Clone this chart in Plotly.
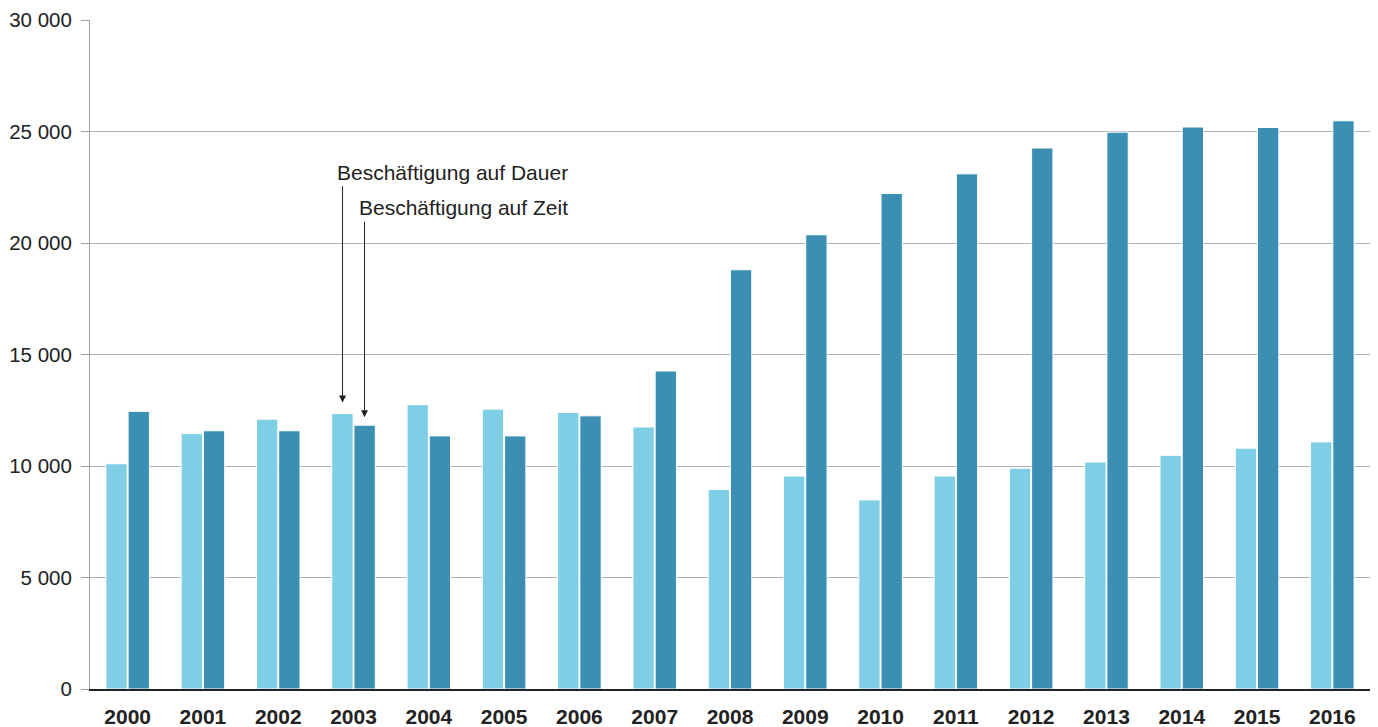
import plotly.graph_objects as go

years = [str(y) for y in range(2000, 2017)]
dauer = [10100, 11450, 12100, 12350, 12750, 12550, 12400, 11750, 8950, 9550,
         8480, 9550, 9900, 10180, 10480, 10800, 11080]
zeit = [12450, 11580, 11580, 11830, 11350, 11350, 12250, 14260, 18800, 20370,
        22220, 23100, 24260, 24970, 25200, 25180, 25480]
y_ticks = [0, 5000, 10000, 15000, 20000, 25000, 30000]
label_dauer = "Beschäftigung auf Dauer"
label_zeit = "Beschäftigung auf Zeit"

fig = go.Figure()
fig.add_trace(go.Bar(x=years, y=dauer, name=label_dauer,
                     marker=dict(color="#7ECEE6", line=dict(color="white", width=1))))
fig.add_trace(go.Bar(x=years, y=zeit, name=label_zeit,
                     marker=dict(color="#3B8FB3", line=dict(color="white", width=1))))

font_family = "Liberation Sans, Arial, Helvetica, sans-serif"
off = 0.146
# arrows
fig.add_annotation(x=3 - off, y=dauer[3], xref="x", yref="y", text="", showarrow=True,
                   ax=0, ay=-229, arrowhead=2, arrowsize=1.4, arrowwidth=1,
                   arrowcolor="#222", standoff=11)
fig.add_annotation(x=3 + off, y=zeit[3], xref="x", yref="y", text="", showarrow=True,
                   ax=0, ay=-205, arrowhead=2, arrowsize=1.4, arrowwidth=1,
                   arrowcolor="#222", standoff=8)
fig.add_annotation(x=3 - off, y=23180, xref="x", yref="y", text=label_dauer,
                   showarrow=False, xanchor="left", xshift=-8, yanchor="middle",
                   font=dict(size=21, color="#222", family=font_family))
fig.add_annotation(x=3 + off, y=21570, xref="x", yref="y", text=label_zeit,
                   showarrow=False, xanchor="left", xshift=-8, yanchor="middle",
                   font=dict(size=21, color="#222", family=font_family))

fig.update_layout(
    width=1370, height=719,
    margin=dict(l=82, r=8, t=12, b=38, autoexpand=False),
    paper_bgcolor="white", plot_bgcolor="white",
    barmode="group", bargap=0.41, bargroupgap=0.04,
    showlegend=False,
    separators=", ",
    font=dict(family=font_family, color="#222", size=21),
    xaxis=dict(type="category", showgrid=False, showline=True, linecolor="#222",
               linewidth=2, ticks="", automargin=False,
               tickfont=dict(size=21, family=font_family, color="#222", weight="bold"),
               ticklabelstandoff=8),
    yaxis=dict(range=[0, 30000], tickvals=y_ticks, tickformat=",d", automargin=False,
               showgrid=True, gridcolor="#B0B0B0", gridwidth=1,
               showline=True, linecolor="#A0A0A0", linewidth=1,
               ticks="outside", ticklen=8, tickcolor="#A0A0A0",
               ticklabelstandoff=5,
               zeroline=False, tickfont=dict(size=20.5, color="#222")),
)
fig.write_html("out.html")
